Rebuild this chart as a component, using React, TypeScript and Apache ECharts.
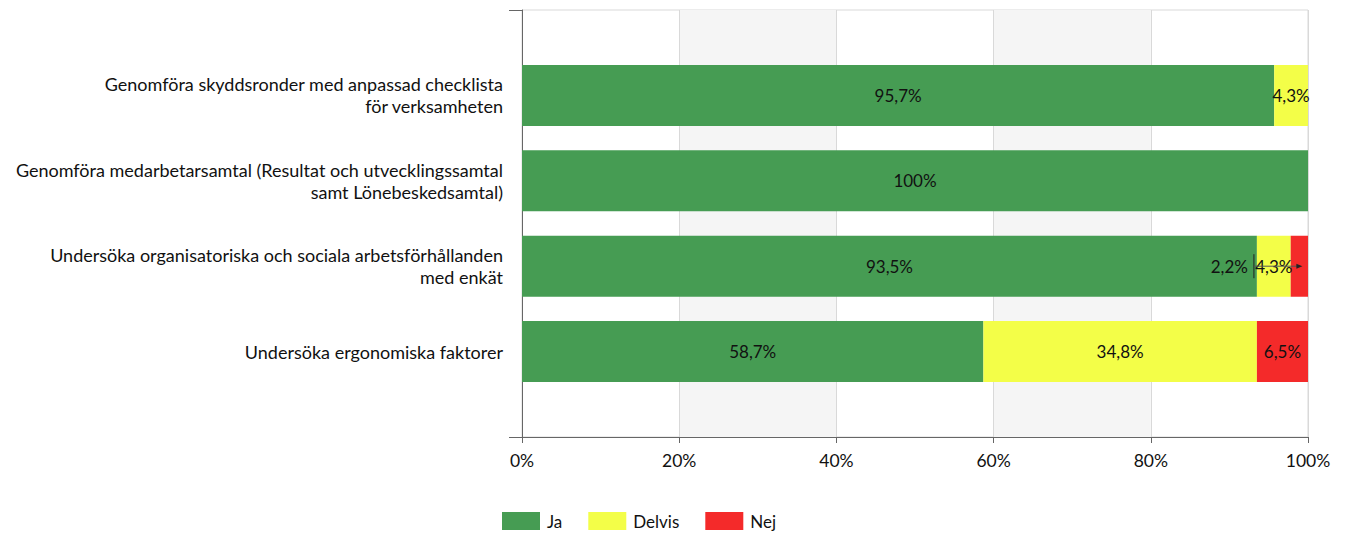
import React, { useEffect, useRef } from "react";
import * as echarts from "echarts";

const categories = [
  "Genomföra skyddsronder med anpassad checklista\nför verksamheten",
  "Genomföra medarbetarsamtal (Resultat och utvecklingssamtal\nsamt Lönebeskedsamtal)",
  "Undersöka organisatoriska och sociala arbetsförhållanden\nmed enkät",
  "Undersöka ergonomiska faktorer",
];
const jaValues = [95.7, 100, 93.5, 58.7];
const delvisValues = [4.3, 0, 4.3, 34.8];
const nejValues = [0, 0, 2.2, 6.5];
const xTicks = [0, 20, 40, 60, 80, 100];

const FONT = "Lato, 'Open Sans', sans-serif";

function fmt(v: number) {
  return String(v).replace(".", ",") + "%";
}

export default function App() {
  const ref = useRef<HTMLDivElement>(null);
  useEffect(() => {
    if (!ref.current) return;
    const chart = echarts.init(ref.current, undefined, { renderer: "svg" });
    const axisData = ["", ...categories, ""];
    const pad = (arr: number[]) => ["-", ...arr, "-"] as any[];
    const label = () => ({
      show: true,
      position: "inside",
      color: "#111",
      fontSize: 17,
      fontFamily: FONT,
      formatter: (p: any) => (typeof p.value === "number" && p.value > 0 ? fmt(p.value) : ""),
    });
    const nejData = pad(nejValues).map((v, i) =>
      i === 3 ? { value: v, label: { offset: [-70, 0] } } : v
    );
    chart.setOption({
      animation: false,
      textStyle: { fontFamily: FONT },
      grid: {
        left: 522,
        right: 38,
        top: 10,
        bottom: 97,
        show: true,
        borderColor: "#d9d9d9",
        borderWidth: 1,
        backgroundColor: "transparent",
      },
      legend: {
        bottom: 4,
        left: 502,
        padding: 0,
        itemWidth: 38,
        itemHeight: 18,
        itemGap: 26,
        icon: "rect",
        textStyle: { fontSize: 17, color: "#111", fontFamily: FONT, padding: [0, 0, 0, 2] },
        data: ["Ja", "Delvis", "Nej"],
      },
      xAxis: {
        type: "value",
        min: 0,
        max: 100,
        interval: 20,
        axisLine: { show: true, lineStyle: { color: "#666" } },
        axisTick: { show: true, length: 6, lineStyle: { color: "#666" } },
        axisLabel: {
          fontSize: 17.5,
          color: "#111",
          margin: 14,
          fontFamily: FONT,
          formatter: (v: number) => (xTicks.includes(v) ? v + "%" : ""),
        },
        splitLine: { show: true, lineStyle: { color: "#d9d9d9" } },
        splitArea: { show: true, areaStyle: { color: ["rgba(255,255,255,0)", "#f5f5f5"] } },
      },
      yAxis: {
        type: "category",
        inverse: true,
        boundaryGap: false,
        data: axisData,
        axisLine: { show: true, lineStyle: { color: "#666" } },
        axisTick: {
          show: true,
          length: 13,
          interval: (i: number) => i === 0 || i === axisData.length - 1,
          lineStyle: { color: "#666" },
        },
        axisLabel: {
          fontSize: 18,
          color: "#111",
          margin: 19,
          lineHeight: 22,
          fontFamily: FONT,
          interval: 0,
          align: "right",
        },
        splitLine: { show: false },
      },
      series: [
        {
          name: "Ja",
          type: "bar",
          stack: "s",
          barWidth: 61,
          itemStyle: { color: "#469c53" },
          label: label(),
          data: pad(jaValues),
        },
        {
          name: "Delvis",
          type: "bar",
          stack: "s",
          barWidth: 61,
          itemStyle: { color: "#f3fe48" },
          label: label(),
          data: pad(delvisValues),
        },
        {
          name: "Nej",
          type: "bar",
          stack: "s",
          barWidth: 61,
          itemStyle: { color: "#f42a2a" },
          label: label(),
          data: nejData,
        },
      ],
    });
    // leader line for the shifted label of the small "Nej" segment
    const startX = jaValues[2];
    const endX = jaValues[2] + delvisValues[2] + nejValues[2] / 2;
    const p0 = chart.convertToPixel({ xAxisIndex: 0, yAxisIndex: 0 }, [startX, 3]) as number[];
    const p1 = chart.convertToPixel({ xAxisIndex: 0, yAxisIndex: 0 }, [endX, 3]) as number[];
    if (p0 && p1) {
      chart.setOption({
        graphic: [
          {
            type: "line",
            z: 100,
            shape: { x1: p0[0] - 3, y1: p0[1] - 12, x2: p0[0] - 3, y2: p0[1] + 12 },
            style: { stroke: "#222", lineWidth: 1 },
          },
          {
            type: "line",
            z: 100,
            shape: { x1: p0[0] - 3, y1: p0[1], x2: p1[0], y2: p1[1] },
            style: { stroke: "#555", lineWidth: 1 },
          },
          {
            type: "polygon",
            z: 100,
            shape: { points: [[p1[0] + 3, p1[1]], [p1[0] - 3, p1[1] - 2.5], [p1[0] - 3, p1[1] + 2.5]] },
            style: { fill: "#222" },
          },
        ],
      });
    }
    return () => chart.dispose();
  }, []);
  return (
    <div
      ref={ref}
      style={{ position: "absolute", left: 0, top: 0, width: 1346, height: 534 }}
    />
  );
}
